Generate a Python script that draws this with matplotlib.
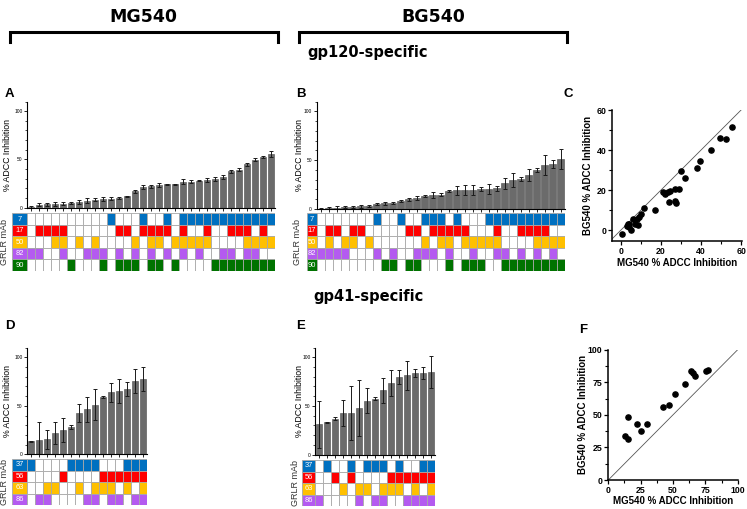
import matplotlib
matplotlib.use('Agg')
import matplotlib.pyplot as plt
from matplotlib.patches import Rectangle
from matplotlib.ticker import MultipleLocator
import numpy as np

plt.rcParams['font.family'] = ['Liberation Sans', 'DejaVu Sans']

W, H = 747, 509

# gp120-specific mAbs, columns sorted by inhibition
gp120_mabs = ['7', '17', '50', '82', '90']
gp41_mabs = ['37', '56', '63', '86']
colors5 = ['#0070C0', '#FF0000', '#FFC000', '#B45AF0', '#007300']
colors4 = ['#0070C0', '#FF0000', '#FFC000', '#B45AF0']

# panel A (MG540)
a_mean = [0.5, 2.8, 3.3, 3.8, 4.0, 5.0, 5.8, 7.0, 8.2, 8.7, 9.2, 9.8, 11.7, 17.0, 21.2, 22.2,
          23.3, 24.2, 24.3, 26.8, 27.0, 27.7, 28.8, 29.8, 32.0, 37.8, 39.5, 44.8, 49.7, 52.3, 55.7]
a_err = [1.0, 1.5, 1.5, 2.0, 1.5, 1.0, 2.0, 2.5, 1.5, 2.0, 1.5, 1.0, 0.5, 1.5, 2.0, 1.5,
         2.0, 0.5, 0.5, 2.5, 1.5, 0.5, 2.0, 2.0, 2.0, 1.5, 2.0, 1.5, 1.5, 1.0, 3.0]
a_rows = [[11, 15, 18] + list(range(20, 32)),
          [2, 3, 4, 5, 12, 13, 15, 16, 17, 18, 20, 23, 26, 27, 28, 30],
          [4, 5, 7, 9, 14, 16, 17, 19, 20, 21, 22, 23, 28, 29, 30, 31],
          [1, 2, 5, 8, 9, 10, 12, 14, 16, 18, 20, 22, 25, 26, 28, 29],
          [6, 10, 12, 13, 14, 16, 17, 19] + list(range(24, 32))]

# panel B (BG540)
b_mean = [0.3, 0.8, 1.5, 2.0, 2.5, 2.8, 3.0, 5.3, 5.7, 6.3, 8.0, 9.8, 10.8, 13.7, 14.2, 14.5,
          18.0, 19.0, 19.2, 19.7, 20.3, 20.5, 21.0, 26.2, 29.7, 30.8, 34.7, 40.0, 45.3, 46.2, 51.3]
b_err = [1.0, 1.0, 2.0, 1.0, 1.0, 1.5, 1.0, 1.0, 1.5, 1.0, 1.0, 1.5, 2.0, 1.0, 3.0, 1.5,
         1.0, 5.0, 5.0, 5.0, 2.0, 5.0, 3.0, 6.0, 7.0, 2.0, 6.0, 2.0, 10.0, 4.0, 10.0]
b_rows = [[8, 11, 14, 15, 16, 18] + list(range(22, 32)),
          [2, 3, 5, 6, 12, 13, 15, 16, 17, 18, 19, 23, 26, 27, 28, 29],
          [2, 4, 5, 7, 14, 16, 17, 19, 20, 21, 22, 23, 28, 29, 30, 31],
          [1, 2, 3, 4, 8, 10, 13, 14, 15, 17, 20, 23, 24, 26, 28, 30],
          [9, 10, 12, 13, 17, 19, 20, 21] + list(range(24, 32))]

# panel C scatter
c_mg = [0.5, 2.8, 3.3, 3.8, 4.0, 5.0, 5.8, 7.0, 8.2, 8.7, 9.2, 9.8, 11.7, 17.0, 21.2, 22.2,
        23.3, 24.3, 24.2, 26.8, 27.0, 27.7, 28.8, 29.8, 32.0, 37.8, 39.5, 44.8, 49.7, 52.3, 55.7]
c_bg = [-2.2, 2.0, 2.8, 1.7, 3.0, 0.0, 5.7, 2.8, 5.3, 2.3, 6.3, 8.0, 10.8, 9.8, 19.2, 18.0,
        19.0, 19.7, 14.2, 20.3, 14.5, 13.7, 20.5, 29.7, 26.2, 30.8, 34.7, 40.0, 46.2, 45.3, 51.3]

# panel D (MG540, gp41)
d_mean = [13.3, 14.9, 15.3, 21.9, 25.3, 28.0, 42.5, 46.6, 51.2, 59.2, 64.0, 65.3, 67.3, 75.5, 77.4]
d_err = [0.5, 18.5, 10.0, 11.5, 12.5, 2.0, 9.0, 13.0, 16.0, 1.0, 10.0, 12.0, 7.0, 12.5, 12.5]
d_rows = [[1, 6, 7, 8, 9, 13, 14, 15],
          [5, 10, 11, 12, 13, 14, 15],
          [3, 4, 7, 9, 10, 11, 13, 15],
          [2, 3, 8, 9, 11, 12, 14, 15]]

# panel E (BG540, gp41)
e_mean = [31.3, 33.4, 37.1, 42.6, 42.8, 47.9, 55.6, 57.3, 66.1, 73.6, 79.5, 81.6, 83.6, 83.8, 84.9]
e_err = [24.0, 0.5, 1.5, 13.5, 28.0, 29.0, 13.0, 1.5, 13.0, 13.0, 7.0, 15.0, 4.0, 6.0, 16.0]
e_rows = [[2, 5, 7, 8, 9, 11, 14, 15],
          [3, 5, 10, 11, 12, 13, 14, 15],
          [4, 6, 7, 9, 10, 11, 13, 15],
          [1, 6, 8, 9, 12, 13, 14, 15]]

# panel F scatter
f_mg = [13.1, 14.9, 15.2, 21.9, 25.5, 29.9, 42.5, 46.6, 51.3, 59.3, 63.9, 65.2, 67.0, 75.5, 77.3]
f_bg = [33.8, 31.5, 48.1, 42.7, 37.3, 43.2, 55.8, 57.5, 66.2, 73.7, 83.9, 81.8, 79.8, 83.9, 84.7]

fig = plt.figure(figsize=(W / 100, H / 100), dpi=100)


def px_axes(x0, y0, x1, y1):
    return fig.add_axes([x0 / W, 1 - y1 / H, (x1 - x0) / W, (y1 - y0) / H])


def bar_panel(x0, y_top, y_zero, means, errs, x_lab):
    n = len(means)
    ax = px_axes(x0, y_top, x0 + 8 * n, y_zero)
    x = np.arange(n)
    ax.bar(x, means, width=0.76, color='#6b6b6b', edgecolor='#4a4a4a', lw=0.4)
    ax.errorbar(x, means, yerr=errs, fmt='none', ecolor='#1a1a1a', elinewidth=0.7,
                capsize=1.4, capthick=0.7)
    ax.set_xlim(-0.5, n - 0.5)
    ax.set_ylim(0, 110)
    ax.spines['top'].set_visible(False)
    ax.spines['right'].set_visible(False)
    ax.spines['left'].set_linewidth(0.8)
    ax.spines['bottom'].set_linewidth(0.8)
    ax.set_xticks(x)
    ax.set_xticklabels([])
    ax.tick_params(axis='x', length=2.5, width=0.6)
    ax.set_yticks([0, 50, 100])
    ax.yaxis.set_minor_locator(MultipleLocator(10))
    ax.tick_params(axis='y', which='major', length=2.5, width=0.6, labelsize=3.5, pad=0.8)
    ax.tick_params(axis='y', which='minor', length=1.5, width=0.5)
    fig.text(x_lab / W, 1 - (y_top + y_zero) / 2 / H, '% ADCC Inhibition', rotation=90,
             ha='center', va='center', fontsize=6.3)
    return ax


def grid_panel(x_lab0, x0, y0, means, labels, colors, rows, x_text):
    n = len(means)
    rh = 11.5
    nr = len(labels)
    ax = px_axes(x_lab0, y0, x0 + 8 * n, y0 + rh * nr)
    lab_w = (x0 - x_lab0) / 8
    ax.set_xlim(-lab_w, n)
    ax.set_ylim(nr, 0)
    ax.axis('off')
    for r in range(nr):
        ax.add_patch(Rectangle((-lab_w, r), lab_w, 1, fc=colors[r], ec='#a8a8a8', lw=0.6))
        ax.text(-lab_w / 2, r + 0.52, labels[r], color='white', ha='center', va='center',
                fontsize=5.4)
        for c in range(n):
            fc = colors[r] if (c + 1) in rows[r] else 'white'
            ax.add_patch(Rectangle((c, r), 1, 1, fc=fc, ec='#a8a8a8', lw=0.6))
    fig.text(x_text / W, 1 - (y0 + rh * nr / 2) / H, 'GRLR mAb', rotation=90,
             ha='center', va='center', fontsize=6.5, color='#333333')


def scatter_panel(box, xs, ys, lims, ticks, line, ylab_x, xlab_y):
    ax = px_axes(*box)
    ax.plot(line, line, color='#555555', lw=0.6, zorder=1)
    ax.scatter(xs, ys, s=14, color='black', zorder=3)
    ax.set_xlim(lims[0], lims[1])
    ax.set_ylim(lims[2], lims[3])
    ax.spines['top'].set_visible(False)
    ax.spines['right'].set_visible(False)
    ax.spines['left'].set_linewidth(1.1)
    ax.spines['bottom'].set_linewidth(1.1)
    ax.set_xticks(ticks)
    ax.set_yticks(ticks)
    step = ticks[1] - ticks[0]
    ax.xaxis.set_minor_locator(MultipleLocator(step / 2))
    ax.yaxis.set_minor_locator(MultipleLocator(step / 2))
    ax.tick_params(which='major', length=3, width=0.9, labelsize=6.3, pad=1.2)
    ax.tick_params(which='minor', length=2, width=0.8)
    for t in ax.get_xticklabels() + ax.get_yticklabels():
        t.set_fontweight('bold')
    fig.text(ylab_x / W, 1 - (box[1] + box[3]) / 2 / H, 'BG540 % ADCC Inhibition',
             rotation=90, ha='center', va='center', fontsize=7, fontweight='bold')
    fig.text((box[0] + box[2]) / 2 / W, 1 - xlab_y / H, 'MG540 % ADCC Inhibition',
             ha='center', va='center', fontsize=7, fontweight='bold')
    return ax


# header
hdr = dict(ha='center', va='center', fontweight='bold', family='DejaVu Sans')
fig.text(143 / W, 1 - 17 / H, 'MG540', fontsize=12.5, **hdr)
fig.text(433 / W, 1 - 17 / H, 'BG540', fontsize=12.5, **hdr)
fig.text(368 / W, 1 - 52 / H, 'gp120-specific', fontsize=10.5, **hdr)
fig.text(368 / W, 1 - 297 / H, 'gp41-specific', fontsize=10.5, **hdr)
for bx0, bx1 in [(10, 278), (299, 567)]:
    fig.add_artist(plt.Line2D([bx0 / W, bx0 / W, bx1 / W, bx1 / W],
                              [1 - 42 / H, 1 - 32 / H, 1 - 32 / H, 1 - 42 / H],
                              color='black', lw=2.2, solid_joinstyle='miter'))

# panel letters
for lab, x, y in [('A', 5, 94), ('B', 296, 94), ('C', 563, 94),
                  ('D', 5, 326), ('E', 296, 326), ('F', 579, 330)]:
    fig.text(x / W, 1 - y / H, lab, ha='left', va='center', fontsize=9.5, fontweight='bold')

# gp120 panels
bar_panel(27.3, 101.5, 207.6, a_mean, a_err, 8)
grid_panel(12, 27.3, 213.3, a_mean, gp120_mabs, colors5, a_rows, 5)
bar_panel(316.5, 101.5, 209, b_mean, b_err, 300)
grid_panel(306.5, 316.5, 213.3, b_mean, gp120_mabs, colors5, b_rows, 298)

# gp41 panels
bar_panel(27.3, 347.7, 454.3, d_mean, d_err, 8)
grid_panel(12, 27.3, 459, d_mean, gp41_mabs, colors4, d_rows, 5)
bar_panel(315, 347.5, 454.7, e_mean, e_err, 300)
grid_panel(302, 315, 460, e_mean, gp41_mabs, colors4, e_rows, 296)

# scatter panels
scatter_panel((612.3, 110, 741.7, 240.7), c_mg, c_bg, (-4.3, 60.3, -5.3, 60),
              [0, 20, 40, 60], [-6, 62], 588, 263)
scatter_panel((608.3, 349.7, 737.7, 480), f_mg, f_bg, (0, 100, 0, 100),
              [0, 25, 50, 75, 100], [0, 100], 583, 501)

fig.savefig('out.png', dpi=100)
